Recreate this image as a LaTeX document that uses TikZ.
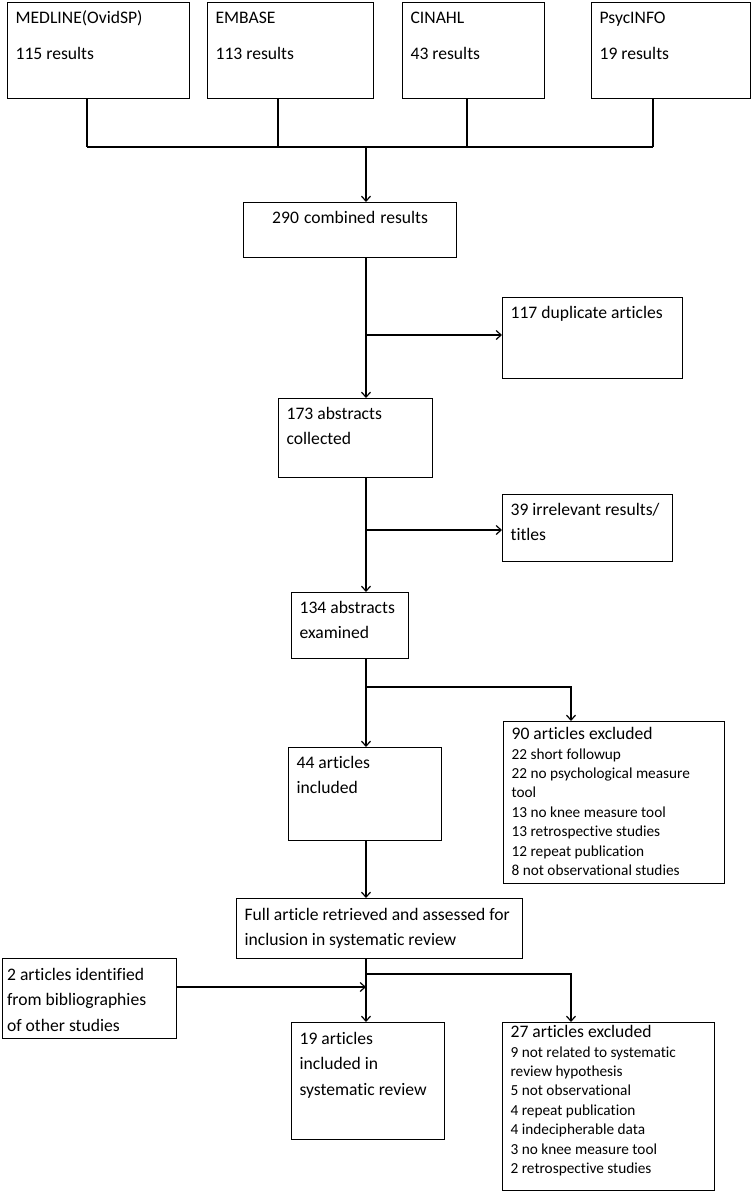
\documentclass[tikz,border=0pt]{standalone}
\usepackage{fontspec}
\setmainfont{Carlito}[Ligatures={NoCommon}]
\usetikzlibrary{arrows.meta}

\begin{document}
\begin{tikzpicture}[x=1pt,y=-1pt,line width=1.2pt,
  box/.style={draw,anchor=north west,align=left,inner xsep=8pt,inner ysep=0pt,
    text height=21pt,font=\fontsize{17.6}{25.3}\selectfont,
    execute at begin node={\spaceskip=0pt\xspaceskip=0pt}},
  list/.style={box,font=\fontsize{15.3}{19.4}\selectfont},
  arr/.style={-{Straight Barb[length=5pt,width=9pt]}}]
 \useasboundingbox (0,0) rectangle (755,1200);
 \foreach \x/\w/\bx/\n/\db/\res in
  {
    7/182/87/med/MEDLINE(OvidSP)/115, 207/166/278/emb/EMBASE/113,
    402/142/467/cin/CINAHL/43, 591/159/653/psy/PsycINFO/19}
  {
    \node[box,text width=\w-16,text depth=75] (\n) at (\x,2) {\db\\[10.7pt]\res{} results};
    \coordinate (bus-\n) at (\bx,147);
    \draw (\n.south -| bus-\n) -- (bus-\n);
  }
 \draw (bus-med) -- (bus-psy);
 \coordinate (top) at (366,147);

 \node[box,align=center,text width=213-16,text depth=34] (comb) at (243,202) {290 combined results};
 \node[box,text width=180-16,text depth=60] (dup) at (502,297) {117 duplicate articles};
 \node[box,text width=154-16,text depth=58] (abs1) at (278,398) {173 abstracts\\collected};
 \node[box,text width=170-16,text depth=46] (irr) at (502,494) {39 irrelevant results/\\titles};
 \node[box,text width=117-16,text depth=45] (abs2) at (291,592) {134 abstracts\\examined};
 \node[box,text width=153-16,text depth=72] (abs3) at (288,747) {44 articles\\included};
 \node[list,text height=18pt,text width=221-16,text depth=144] (exc1) at (503,721)
  {{\fontsize{17.6}{19.4}\selectfont 90 articles excluded}\\22 short followup\\
   22 no psychological measure\\tool\\13 no knee measure tool\\
   13 retrospective studies\\12 repeat publication\\8 not observational studies};
 \node[box,text height=22pt,text width=286-16,text depth=38] (full) at (236,898)
  {Full article retrieved and assessed for\\inclusion in systematic review};
 \node[box,inner xsep=4.5pt,text height=22pt,text width=174-9,text depth=58] (bib) at (2,958)
  {2 articles identified\\from bibliographies\\of other studies};
 \node[box,text height=22pt,text width=153-16,text depth=95] (inc) at (291,1022)
  {19 articles\\included in\\systematic review};
 \node[list,text height=15pt,text width=212-16,text depth=153] (exc2) at (502,1022)
  {{\fontsize{17.6}{19.4}\selectfont 27 articles excluded}\\9 not related to systematic\\
   review hypothesis\\5 not observational\\4 repeat publication\\
   4 indecipherable data\\3 no knee measure tool\\2 retrospective studies};

 \coordinate (b1) at (366,335);
 \coordinate (b2) at (366,530);
 \coordinate (b3) at (366,687);
 \coordinate (b3r) at (571,687);
 \coordinate (b4) at (366,974);
 \coordinate (b4r) at (571,974);
 \coordinate (b5) at (366,987);

 \draw[arr] (top) -- (top |- comb.north);
 \draw[arr] (comb.south -| top) -- (abs1.north -| top);
 \draw[arr] (b1) -- (b1 -| dup.west);
 \draw[arr] (abs1.south -| top) -- (abs2.north -| top);
 \draw[arr] (b2) -- (b2 -| irr.west);
 \draw[arr] (abs2.south -| top) -- (abs3.north -| top);
 \draw[arr] (b3) -- (b3r) -- (b3r |- exc1.north);
 \draw[arr] (abs3.south -| top) -- (full.north -| top);
 \draw[arr] (full.south -| top) -- (inc.north -| top);
 \draw[arr] (b4) -- (b4r) -- (b4r |- exc2.north);
 \draw[arr] (b5 -| bib.east) -- (b5);
\end{tikzpicture}
\end{document}
